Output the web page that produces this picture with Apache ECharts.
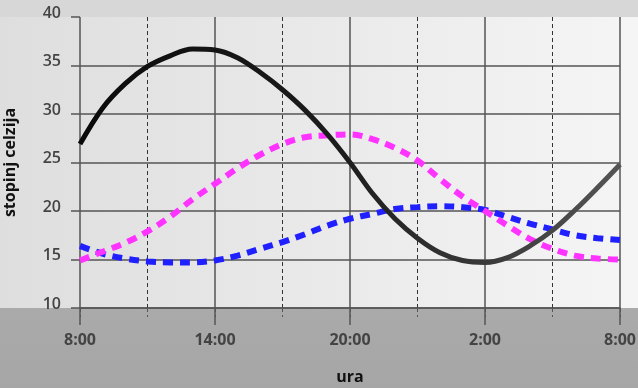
<!DOCTYPE html>
<html>
<head>
<meta charset="utf-8">
<script src="https://cdn.jsdelivr.net/npm/echarts@6/dist/echarts.min.js"></script>
<style>html,body{margin:0;padding:0;background:#fff}#c{width:638px;height:388px}</style>
</head>
<body>
<div id="c"></div>
<script>
// hours elapsed since 8:00
var hours = [0,1,2,3,4,5,6,7,8,9,10,11,12,13,14,15,16,17,18,19,20,21,22,23,24];
var blackTemp = [26.9,30.6,33.1,34.9,36.0,36.7,36.6,35.8,34.3,32.5,30.4,27.9,25.0,21.8,19.2,17.2,15.7,14.9,14.7,15.2,16.4,18.0,20.1,22.4,24.8];
var magentaTemp = [14.9,15.8,16.7,17.9,19.4,21.2,22.8,24.4,25.8,26.9,27.6,27.8,27.9,27.4,26.5,25.2,23.3,21.5,20.0,18.5,17.1,16.1,15.4,15.1,15.0];
var blueTemp = [16.4,15.6,15.1,14.8,14.7,14.7,14.9,15.4,16.1,16.8,17.6,18.5,19.2,19.7,20.2,20.4,20.5,20.4,20.1,19.4,18.7,18.1,17.5,17.2,17.0];
var xTickLabels = ['8:00','14:00','20:00','2:00','8:00'];
var yName = 'stopinj celzija';
var xName = 'ura';

function pairs(ys){ return hours.map(function(h,i){ return [h, ys[i]]; }); }

var chart = echarts.init(document.getElementById('c'), null, {renderer:'canvas'});
chart.setOption({
  animation: false,
  backgroundColor: '#ffffff',
  graphic: [
    {type:'rect', left:0, top:0, z:-100, silent:true, shape:{width:638,height:17}, style:{fill:'#d7d7d7'}},
    {type:'rect', left:0, top:17, z:-100, silent:true, shape:{width:638,height:291},
      style:{fill:{type:'linear',x:0,y:0,x2:1,y2:0,colorStops:[{offset:0,color:'#dedede'},{offset:1,color:'#f5f5f5'}]}}},
    {type:'rect', left:0, top:308, z:-100, silent:true, shape:{width:638,height:80},
      style:{fill:{type:'linear',x:0,y:0,x2:0,y2:1,colorStops:[{offset:0,color:'#aaaaaa'},{offset:1,color:'#a6a6a6'}]}}}
  ],
  grid: {left:80, right:18, top:17, bottom:80, containLabel:false, outerBoundsMode:'none'},
  xAxis: [
    {
      type:'value', min:0, max:24, interval:6,
      name: xName, nameLocation:'middle', nameGap:61,
      nameTextStyle:{fontFamily:'Open Sans', fontWeight:'bold', fontSize:16, color:'#111'},
      axisLine:{show:true, lineStyle:{color:'#555', width:1.5}},
      axisTick:{show:true, length:17, lineStyle:{color:'#555', width:1.5}},
      axisLabel:{margin:24, fontFamily:'Open Sans', fontWeight:'bold', fontSize:16, color:'#444',
        formatter:function(v){ return xTickLabels[Math.round(v/6)]; }},
      splitLine:{show:true, lineStyle:{color:'#555', width:1.5}}
    },
    {
      type:'value', min:0, max:24, interval:3, position:'bottom',
      axisLine:{show:false},
      axisLabel:{show:false},
      axisTick:{show:true, length:9, lineStyle:{color:['rgba(0,0,0,0)','#333'], width:1, type:[4,3]}},
      splitLine:{show:true, lineStyle:{color:['rgba(0,0,0,0)','#333'], width:1, type:[4,3]}}
    }
  ],
  yAxis: {
    type:'value', min:10, max:40, interval:5,
    name: yName, nameLocation:'middle', nameGap:62, nameRotate:90,
    nameTextStyle:{fontFamily:'Open Sans', fontWeight:'bold', fontSize:16, color:'#111'},
    axisLine:{show:false},
    axisTick:{show:true, length:9, lineStyle:{color:'#555', width:1.5}},
    axisLabel:{margin:19, fontFamily:'Open Sans', fontWeight:600, fontSize:16, color:'#444', verticalAlign:'bottom', padding:[0,0,-4,0]},
    splitLine:{show:true, showMaxLine:false, lineStyle:{color:'#555', width:1.5}}
  },
  series: [
    {type:'line', data:pairs(blackTemp), smooth:0.35, symbol:'none', z:5,
      lineStyle:{width:5, color:{type:'linear',x:0,y:0,x2:1,y2:0,colorStops:[{offset:0,color:'#0a0a0a'},{offset:0.5,color:'#1e1e1e'},{offset:1,color:'#555555'}]}}},
    {type:'line', data:pairs(magentaTemp), smooth:0.35, symbol:'none', z:4,
      lineStyle:{width:6, color:'#ff33ff', type:[10,7], cap:'butt'}},
    {type:'line', data:pairs(blueTemp), smooth:0.35, symbol:'none', z:3,
      lineStyle:{width:6, color:'#2020ff', type:[10,7], cap:'butt'}}
  ]
});
</script>
</body>
</html>
